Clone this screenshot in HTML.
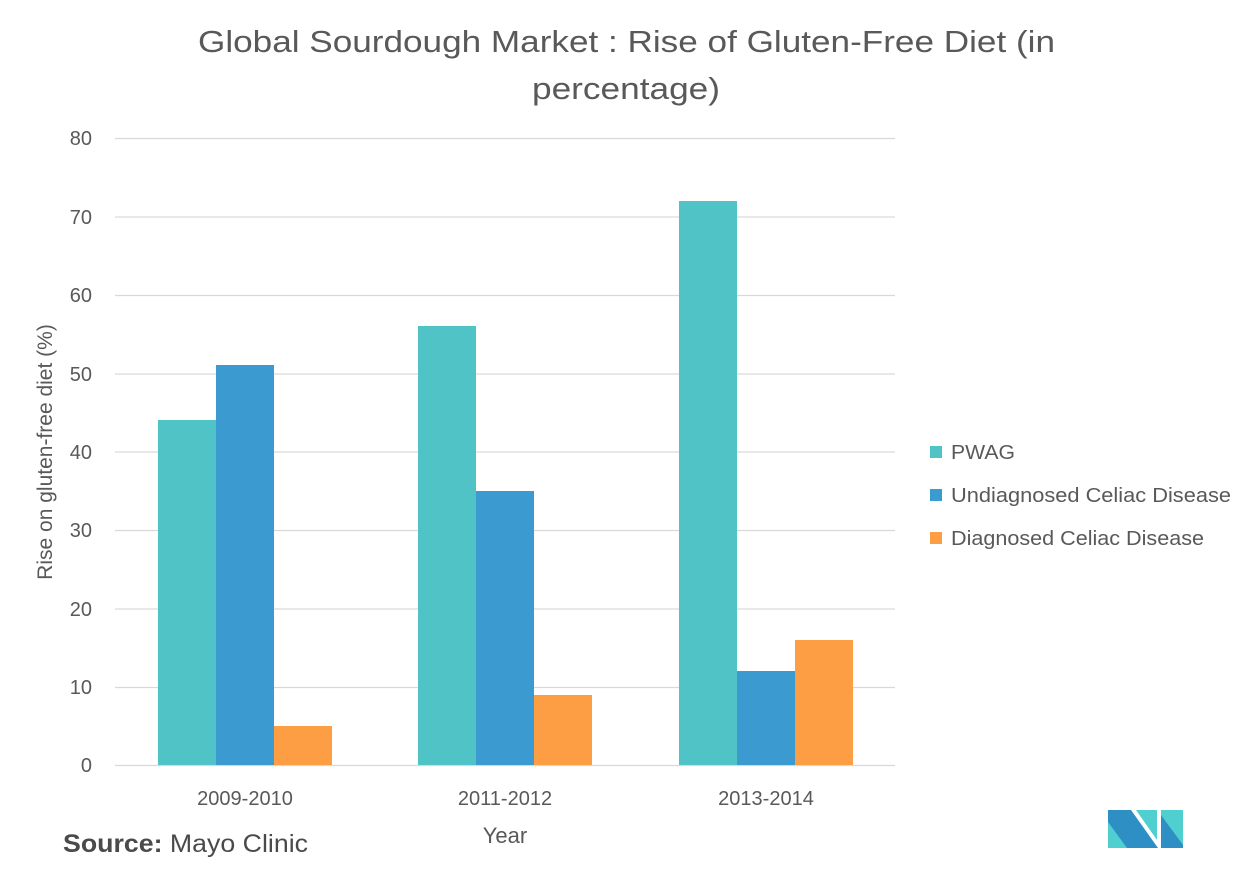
<!DOCTYPE html>
<html><head><style>
body{margin:0;background:#fff;}
svg{display:block;font-family:"Liberation Sans",sans-serif;}
</style></head><body>
<svg width="1253" height="880" viewBox="0 0 1253 880">
<text x="198" y="52" textLength="857" lengthAdjust="spacingAndGlyphs" font-size="31" fill="#595959">Global Sourdough Market : Rise of Gluten-Free Diet (in</text>
<text x="532" y="99" textLength="188" lengthAdjust="spacingAndGlyphs" font-size="31" fill="#595959">percentage)</text>
<g stroke="#d9d9d9" stroke-width="1.3">
<line x1="115" x2="895" y1="138.5" y2="138.5"/><line x1="115" x2="895" y1="217" y2="217"/>
<line x1="115" x2="895" y1="295.5" y2="295.5"/><line x1="115" x2="895" y1="374" y2="374"/>
<line x1="115" x2="895" y1="452" y2="452"/><line x1="115" x2="895" y1="530.5" y2="530.5"/>
<line x1="115" x2="895" y1="609" y2="609"/><line x1="115" x2="895" y1="687.5" y2="687.5"/>
<line x1="115" x2="895" y1="765.5" y2="765.5"/>
</g>
<g font-size="20" fill="#595959" text-anchor="end">
<text x="92" y="145">80</text><text x="92" y="224">70</text><text x="92" y="302">60</text>
<text x="92" y="381">50</text><text x="92" y="459">40</text><text x="92" y="537">30</text>
<text x="92" y="616">20</text><text x="92" y="694">10</text><text x="92" y="772">0</text>
</g>
<text transform="translate(52,452) rotate(-90)" text-anchor="middle" font-size="21" fill="#595959">Rise on gluten-free diet (%)</text>
<g fill="#4fc3c6">
<rect x="158" y="420" width="58" height="345"/><rect x="418" y="326" width="58" height="439"/><rect x="679" y="201" width="58" height="564"/>
</g>
<g fill="#3b9bd0">
<rect x="216" y="365" width="58" height="400"/><rect x="476" y="491" width="58" height="274"/><rect x="737" y="671" width="58" height="94"/>
</g>
<g fill="#fd9e45">
<rect x="274" y="726" width="58" height="39"/><rect x="534" y="695" width="58" height="70"/><rect x="795" y="640" width="58" height="125"/>
</g>
<g font-size="20" fill="#595959" text-anchor="middle">
<text x="245" y="805">2009-2010</text><text x="505" y="805">2011-2012</text><text x="766" y="805">2013-2014</text>
<text x="505" y="843" font-size="22">Year</text>
</g>
<rect x="930" y="446" width="12" height="12" fill="#4fc3c6"/>
<rect x="930" y="489" width="12" height="12" fill="#3b9bd0"/>
<rect x="930" y="532" width="12" height="12" fill="#fd9e45"/>
<g font-size="20" fill="#595959">
<text x="951" y="459" textLength="64" lengthAdjust="spacingAndGlyphs">PWAG</text>
<text x="951" y="502" textLength="280" lengthAdjust="spacingAndGlyphs">Undiagnosed Celiac Disease</text>
<text x="951" y="545" textLength="253" lengthAdjust="spacingAndGlyphs">Diagnosed Celiac Disease</text>
</g>
<text x="63" y="852" font-size="25" fill="#4a4a4a" textLength="245" lengthAdjust="spacingAndGlyphs"><tspan font-weight="bold">Source:</tspan> Mayo Clinic</text>
<g>
<polygon points="1108,810 1131,810 1158,848 1108,848" fill="#2e8fc4"/>
<polygon points="1108,822 1108,848 1127,848" fill="#4fcfd0"/>
<polygon points="1136,810 1157,810 1157,840" fill="#4fcfd0"/>
<polygon points="1161,810 1183,810 1183,848 1161,848" fill="#4fcfd0"/>
<polygon points="1161,815 1183,845 1183,848 1161,848" fill="#2e8fc4"/>
</g>
</svg>
</body></html>
